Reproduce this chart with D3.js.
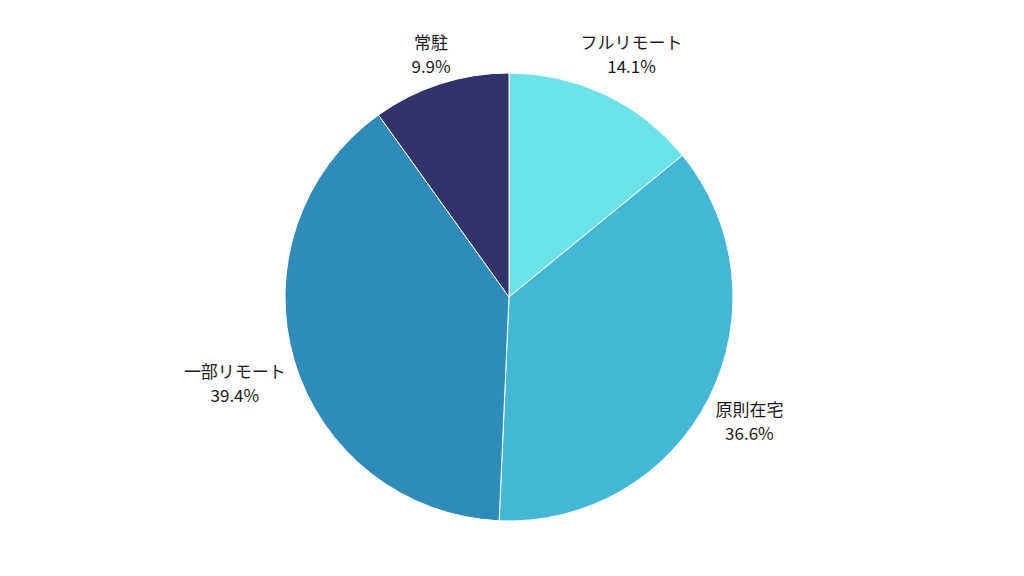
<!DOCTYPE html>
<html>
<head>
<meta charset="utf-8">
<script src="https://cdn.jsdelivr.net/npm/d3@7"></script>
<style>
  html, body { margin: 0; padding: 0; background: #fff; }
  text { font-family: "Noto Sans CJK JP", "Noto Sans", sans-serif; }
</style>
</head>
<body>
<div class="chart"></div>
<script>
var labels = ["フルリモート", "原則在宅", "一部リモート", "常駐"];
var values = [14.1, 36.6, 39.4, 9.9];
var colors = ["#6BE4E9", "#42B7D6", "#2E8BBA", "#31336A"];

var width = 1024,
    height = 576,
    cx = 509,
    cy = 297,
    radius = 224;

var svg = d3.select(".chart")
  .append("svg")
    .attr("width", width)
    .attr("height", height)
  .append("g")
    .attr("transform", "translate(" + cx + "," + cy + ")");

var color = d3.scaleOrdinal().domain(labels).range(colors);

var pie = d3.pie()
  .sort(null)
  .value(function(d) { return d.value; });

var data_ready = pie(labels.map(function(l, i) { return { label: l, value: values[i] }; }));

var arc = d3.arc().innerRadius(0).outerRadius(radius);

svg.selectAll("path.slice")
  .data(data_ready)
  .enter()
  .append("path")
  .attr("class", "slice")
  .attr("d", arc)
  .attr("fill", function(d) { return color(d.data.label); })
  .attr("stroke", "white")
  .style("stroke-width", "1px");

// labels just outside the pie, both lines centred on each other
var labelR = 235;
svg.selectAll("g.lab")
  .data(data_ready)
  .enter()
  .append("g")
  .attr("class", "lab")
  .each(function(d) {
    var a = (d.startAngle + d.endAngle) / 2;
    var s = Math.sin(a), c = Math.cos(a);
    var px = labelR * s, py = -labelR * c;
    var g = d3.select(this);
    var t1 = g.append("text")
      .attr("text-anchor", "middle")
      .style("font-size", "17px")
      .attr("fill", "#1a1a1a")
      .text(d.data.label);
    var t2 = g.append("text")
      .attr("text-anchor", "middle")
      .style("font-size", "17px")
      .attr("fill", "#1a1a1a")
      .text(d.data.value + "%");
    var w = Math.max(t1.node().getComputedTextLength(), t2.node().getComputedTextLength());
    var x = px + s * w / 2;
    var y1 = Math.abs(s) > 0.7 ? py + 14 : Math.max(py - 36, -248);
    t1.attr("x", x).attr("y", y1);
    t2.attr("x", x).attr("y", y1 + 24);
  });
</script>
</body>
</html>
